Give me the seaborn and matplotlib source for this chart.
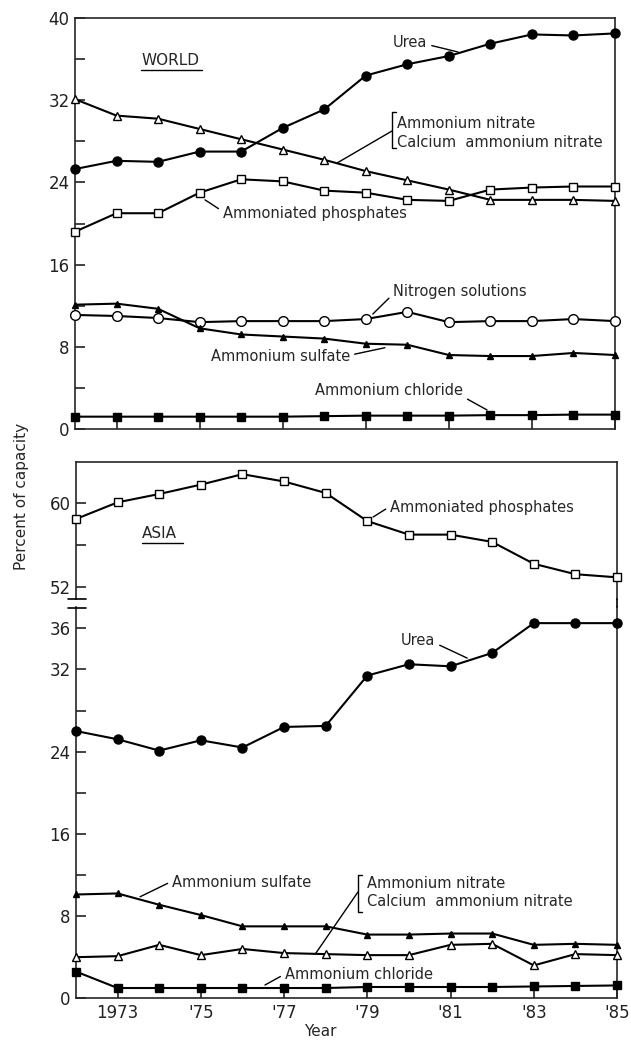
import numpy as np
import pandas as pd
import matplotlib.pyplot as plt
from matplotlib.lines import Line2D
import seaborn as sns

#%% Dados
years = list(range(1972, 1986))

# WORLD
urea_w = [25.3, 26.1, 26.0, 27.0, 27.0, 29.3, 31.1, 34.4, 35.5, 36.3, 37.5, 38.4, 38.3, 38.5]
an_can_w = [32.1, 30.5, 30.2, 29.2, 28.2, 27.2, 26.2, 25.1, 24.2, 23.3, 22.3, 22.3, 22.3, 22.2]
phos_w = [19.2, 21.0, 21.0, 23.0, 24.3, 24.1, 23.2, 23.0, 22.3, 22.2, 23.3, 23.5, 23.6, 23.6]
nsol_w = [11.1, 11.0, 10.8, 10.4, 10.5, 10.5, 10.5, 10.7, 11.4, 10.4, 10.5, 10.5, 10.7, 10.5]
sulf_w = [12.1, 12.2, 11.7, 9.8, 9.2, 9.0, 8.8, 8.3, 8.2, 7.2, 7.1, 7.1, 7.4, 7.2]
chl_w = [1.2, 1.2, 1.2, 1.2, 1.2, 1.2, 1.25, 1.3, 1.3, 1.3, 1.35, 1.35, 1.4, 1.4]

# ASIA
phos_a = [58.5, 60.1, 60.9, 61.8, 62.8, 62.1, 61.0, 58.3, 57.0, 57.0, 56.3, 54.2, 53.2, 52.9]
urea_a = [26.0, 25.2, 24.1, 25.1, 24.4, 26.4, 26.5, 31.4, 32.5, 32.3, 33.6, 36.5, 36.5, 36.5]
sulf_a = [10.1, 10.2, 9.1, 8.1, 7.0, 7.0, 7.0, 6.2, 6.2, 6.3, 6.3, 5.2, 5.3, 5.2]
an_can_a = [4.0, 4.1, 5.2, 4.2, 4.8, 4.4, 4.3, 4.2, 4.2, 5.2, 5.3, 3.2, 4.3, 4.2]
chl_a = [2.6, 1.0, 1.0, 1.0, 1.0, 1.0, 1.0, 1.1, 1.1, 1.1, 1.1, 1.15, 1.2, 1.25]

xtick_years = [1973, 1975, 1977, 1979, 1981, 1983, 1985]
xtick_labels = ["1973", "'75", "'77", "'79", "'81", "'83", "'85"]

yticks_w = [0, 4, 8, 12, 16, 20, 24, 28, 32, 36, 40]
ylabels_w = ["0", "", "8", "", "16", "", "24", "", "32", "", "40"]
yticks_lo = [0, 4, 8, 12, 16, 20, 24, 28, 32, 36]
ylabels_lo = ["0", "", "8", "", "16", "", "24", "", "32", "36"]
yticks_hi = [52, 56, 60]
ylabels_hi = ["52", "", "60"]

#%% Estilo
sns.set_style("ticks")
plt.rcParams['font.family'] = ['DejaVu Sans']
plt.rcParams['axes.linewidth'] = 1.2

W, H = 631, 1046
fig = plt.figure(figsize=(W / 100, H / 100), dpi=100)

ax_w = fig.add_axes([75 / W, 1 - 429 / H, 540 / W, 411 / H])
ax_hi = fig.add_axes([76 / W, 1 - 599 / H, 541 / W, 137.3 / H])
ax_lo = fig.add_axes([76 / W, 1 - 998.3 / H, 541 / W, 391.3 / H])

# estilos das series: (marcador, preenchido, tamanho)
st = {
    'urea': ('o', True, 6.5),
    'an': ('^', False, 5.5),
    'phos': ('s', False, 5.5),
    'nsol': ('o', False, 7),
    'sulf': ('^', True, 5),
    'chl': ('s', True, 5.5),
}


def draw(ax, vals, key):
    m, filled, ms = st[key]
    sns.lineplot(x=years, y=vals, ax=ax, color='black', lw=1.5,
                 marker=m, markersize=ms,
                 markerfacecolor='black' if filled else 'white',
                 markeredgecolor='black', markeredgewidth=1.0,
                 clip_on=False, zorder=3)


draw(ax_w, urea_w, 'urea')
draw(ax_w, an_can_w, 'an')
draw(ax_w, phos_w, 'phos')
draw(ax_w, nsol_w, 'nsol')
draw(ax_w, sulf_w, 'sulf')
draw(ax_w, chl_w, 'chl')

draw(ax_hi, phos_a, 'phos')
draw(ax_lo, urea_a, 'urea')
draw(ax_lo, sulf_a, 'sulf')
draw(ax_lo, an_can_a, 'an')
draw(ax_lo, chl_a, 'chl')

#%% Eixos
for ax in (ax_w, ax_hi, ax_lo):
    ax.set_xlim(1972, 1985)
    ax.set_xlabel("")
    ax.set_ylabel("")
    ax.tick_params(direction='in', length=7, width=1.2, labelsize=12,
                   pad=4, colors='#222222')
    for s in ax.spines.values():
        s.set_linewidth(1.2)

ax_w.set_ylim(0, 40)
ax_w.set_yticks(yticks_w, ylabels_w)
ax_w.set_xticks(xtick_years, [])

ax_hi.set_ylim(50.82, 64.0)
ax_hi.set_yticks(yticks_hi, ylabels_hi)
ax_hi.set_xticks([])
ax_hi.spines['bottom'].set_visible(False)

ax_lo.set_ylim(0, 38.07)
ax_lo.set_yticks(yticks_lo, ylabels_lo)
ax_lo.set_xticks(xtick_years, xtick_labels)
ax_lo.spines['top'].set_visible(False)

# quebra do eixo
fig.add_artist(Line2D([617 / W, 617 / W], [1 - 599 / H, 1 - 607 / H],
                      color='black', lw=1.2))
for yb in (599.3, 607.5):
    fig.add_artist(Line2D([68 / W, 86 / W], [1 - yb / H, 1 - yb / H],
                          color='black', lw=1.2))

#%% Anotacoes
fs = 10.5
lk = dict(color='black', lw=1.0, clip_on=False)


def label(ax, txt, xy, xytext, ha='left', rel=(0, 0.5)):
    ax.annotate(txt, xy=xy, xytext=xytext, ha=ha, va='center', fontsize=fs,
                arrowprops=dict(arrowstyle='-', lw=1.0, color='black',
                                shrinkA=1, shrinkB=0, relpos=rel),
                annotation_clip=False)


def bracket(ax, x, y0, y1, dx):
    ax.plot([x + dx, x, x, x + dx], [y1, y1, y0, y0], **lk)


# WORLD
ax_w.text(1973.6, 35.9, "WORLD", fontsize=fs + 0.5, va='center', ha='left')
ax_w.plot([1973.6, 1975.05], [34.9, 34.9], **lk)
label(ax_w, "Urea", (1981.22, 36.69), (1979.65, 37.57), rel=(1, 0.4))
bracket(ax_w, 1979.63, 27.35, 30.85, 0.1)
ax_w.text(1979.75, 29.78, "Ammonium nitrate", fontsize=fs, va='center')
ax_w.text(1979.75, 27.93, "Calcium  ammonium nitrate", fontsize=fs, va='center')
ax_w.plot([1979.63, 1978.31], [29.0, 25.89], **lk)
label(ax_w, "Ammoniated phosphates", (1975.13, 22.3), (1975.56, 21.02), rel=(0, 0.6))
label(ax_w, "Nitrogen solutions", (1979.17, 11.19), (1979.66, 13.43), rel=(0, 0.3))
label(ax_w, "Ammonium sulfate", (1979.46, 7.91), (1978.62, 7.04), ha='right', rel=(1, 0.6))
label(ax_w, "Ammonium chloride", (1981.92, 1.85), (1981.34, 3.73), ha='right', rel=(1, 0.1))

# ASIA
ax_hi.text(1973.58, 57.15, "ASIA", fontsize=fs + 0.5, va='center', ha='left')
ax_hi.plot([1973.58, 1974.57], [56.22, 56.22], **lk)
label(ax_hi, "Ammoniated phosphates", (1979.14, 58.69), (1979.55, 59.58), rel=(0, 0.6))
label(ax_lo, "Urea", (1981.40, 33.1), (1980.63, 34.85), ha='right', rel=(1, 0.3))
label(ax_lo, "Ammonium sulfate", (1973.54, 9.88), (1974.31, 11.25), rel=(0, 0.6))
bracket(ax_lo, 1978.78, 8.42, 12.0, 0.1)
ax_lo.text(1978.99, 11.19, "Ammonium nitrate", fontsize=fs, va='center')
ax_lo.text(1978.99, 9.40, "Calcium  ammonium nitrate", fontsize=fs, va='center')
ax_lo.plot([1978.78, 1977.75], [10.37, 4.31], **lk)
label(ax_lo, "Ammonium chloride", (1976.54, 1.29), (1977.02, 2.36), rel=(0, 0.5))

fig.text(21.7 / W, 1 - 496 / H, "Percent of capacity", rotation=90,
         ha='center', va='center', fontsize=11)
fig.text(320 / W, 1 - 1031.7 / H, "Year", ha='center', va='center', fontsize=11)

fig.savefig("out.png", dpi=100)
